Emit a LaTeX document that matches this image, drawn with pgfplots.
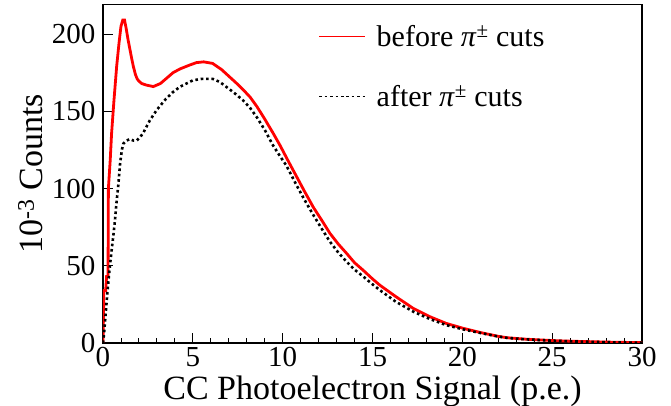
\documentclass[border=0pt]{standalone}
\usepackage{fontspec}
\setmainfont{Liberation Serif}
\usepackage{pgfplots}
\pgfplotsset{compat=1.18}
\newcommand{\ticksize}{\fontsize{29bp}{32bp}\selectfont}
\newcommand{\labsize}{\fontsize{34bp}{38bp}\selectfont}
\newcommand{\legsize}{\fontsize{30bp}{34bp}\selectfont}
\begin{document}
\begin{tikzpicture}
\useasboundingbox (-103bp,-63bp) rectangle (568bp,343bp);
\begin{axis}[
  at={(0,0)}, anchor=south west,
  scale only axis, width=539bp, height=338.3bp,
  xmin=0, xmax=30, ymin=0, ymax=219,
  axis line style={line width=1.2bp},
  tick pos=left, tick align=inside,
  xtick={0,5,...,30}, minor x tick num=4,
  ytick={0,50,...,200},
  major tick length=10bp, minor tick length=5bp,
  every tick/.style={black, line width=0.9bp},
  /pgf/number format/assume math mode=true,
  tick label style={font=\ticksize},
  xticklabel style={yshift=-1bp},
  yticklabel style={xshift=-4bp},
  xlabel={CC Photoelectron Signal (p.e.)},
  ylabel={10\textsuperscript{-3} Counts},
  label style={font=\labsize},
  xlabel style={yshift=-2bp},
  ylabel style={yshift=2bp},
  legend style={draw=none, fill=none, at={(0.40,0.945)}, anchor=north west,
    font=\legsize, row sep=33bp, inner sep=0pt},
  legend cell align=left,
  legend image code/.code={\draw[#1, line width=1.1bp] (0bp,0bp) -- (46bp,0bp); \path (54bp,0bp);},
]
\addplot[red, line width=2.8bp, line join=miter] coordinates {
(0,0) (0.05,34) (0.15,34) (0.2,43) (0.28,43) (0.3,100) (0.4,118) (0.48,136)
(0.61,157) (0.76,179) (0.89,194) (1.0,205) (1.1,209) (1.2,209) (1.3,203)
(1.4,196) (1.5,190) (1.6,184) (1.69,179) (1.8,174) (1.9,171) (2.0,169.5)
(2.15,168) (2.4,167) (2.8,166) (3.2,168) (3.5,171) (3.9,175) (4.3,177.5)
(4.84,180) (5.2,181.5) (5.6,182) (6.1,181) (6.6,177) (7.07,172) (7.4,168.5)
(7.8,164) (8.2,159) (8.57,153) (9.0,145) (9.46,136) (9.85,128) (10.3,118)
(10.78,107.6) (11.2,98.5) (11.7,88) (12.2,79) (12.63,71) (13.1,64) (13.56,58)
(14.0,52) (14.49,47) (15.0,41.5) (15.4,37.5) (16.3,30) (17.27,22.4) (18.2,17)
(19.1,12.7) (20.05,9.5) (21,6.8) (22,4.3) (22.5,3.4) (23.5,2.5) (24.3,2)
(25.2,1.5) (26.2,1.1) (27,0.9) (28,0.6) (29,0.4) (30,0.3)
};
\addlegendentry{before \textit{π}\textsuperscript{±} cuts}
\addplot[black, line width=2.6bp, dash pattern=on 2.6bp off 2.8bp] coordinates {
(0,0) (0.05,5) (0.1,12) (0.17,22) (0.24,32) (0.35,46) (0.48,60) (0.58,70)
(0.67,80) (0.76,92) (0.85,102) (0.95,116) (1.05,125) (1.13,129) (1.3,131)
(1.5,132) (1.7,131) (1.87,131) (2.05,133) (2.24,136) (2.4,139.5) (2.6,144)
(2.8,147.5) (3.0,151) (3.25,154.5) (3.5,158) (3.9,162.5) (4.3,166) (4.65,168)
(5.0,170) (5.5,171) (6.1,171) (6.5,169) (7.07,164) (7.4,161) (7.8,157)
(8.2,152) (8.57,146) (9.0,138) (9.46,128) (9.85,121) (10.2,115) (10.78,102)
(11.2,93) (11.7,83) (12.2,73.5) (12.63,65.6) (13.1,58.5) (13.56,52.6)
(14.0,47.5) (14.49,43) (15.0,38) (15.4,34.3) (16.3,26.7) (17.27,20.3)
(18.2,15.5) (19.1,11.6) (20.05,8.8) (21,6.5) (22,4.2) (22.5,3.3) (23.5,2.4)
(24.3,1.9) (25.2,1.4) (26.2,1.0) (27,0.8) (28,0.5) (29,0.3) (30,0.2)
};
\addlegendentry{after \textit{π}\textsuperscript{±} cuts}
\end{axis}
\end{tikzpicture}
\end{document}
